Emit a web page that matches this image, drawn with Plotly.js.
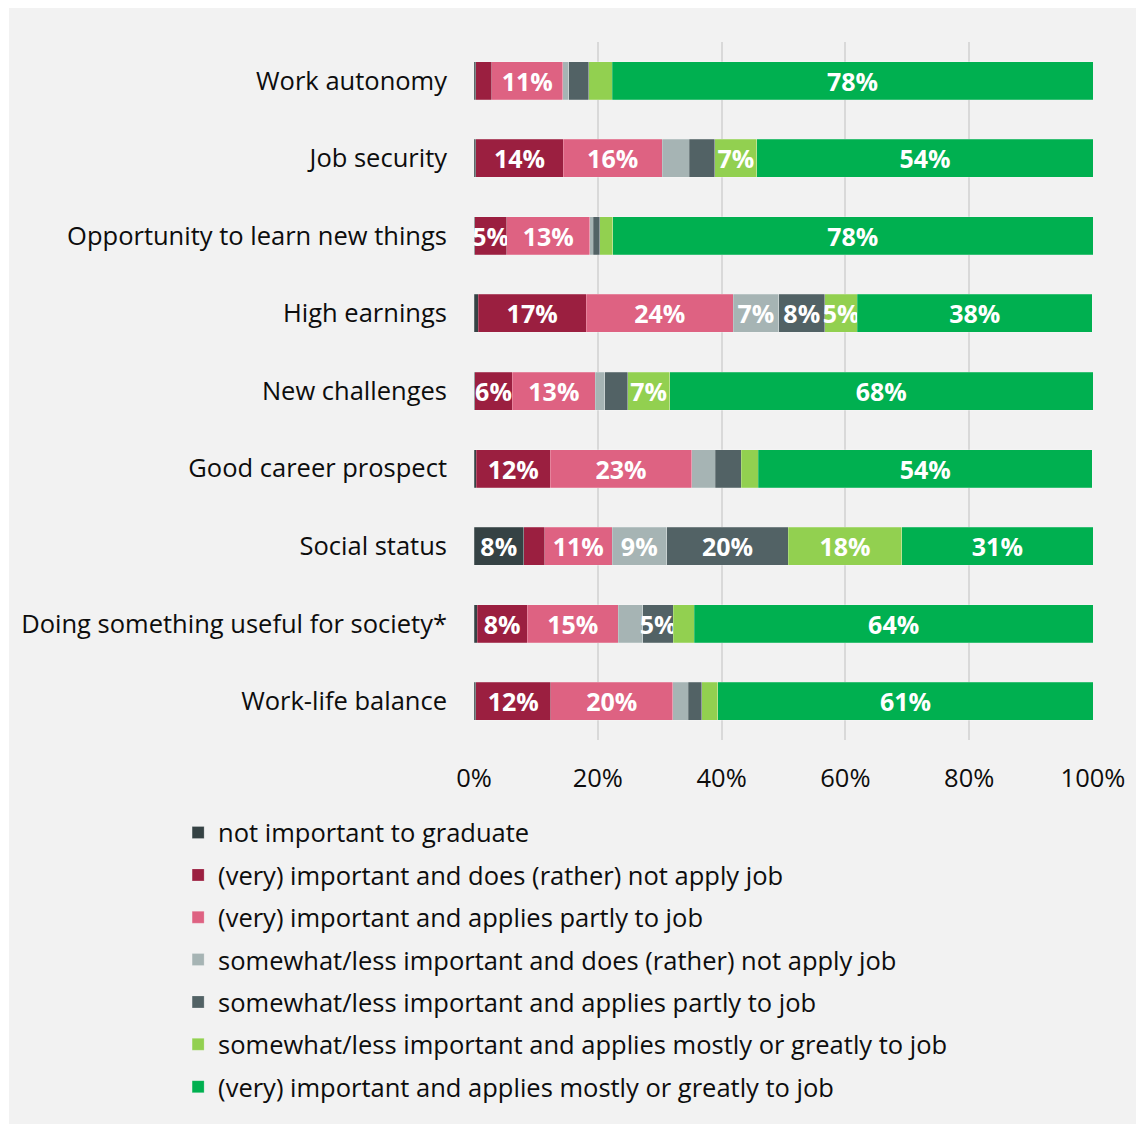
<!DOCTYPE html>
<html>
<head>
<meta charset="utf-8">
<script src="https://cdn.plot.ly/plotly-3.0.1.min.js"></script>
<style>
  html, body { margin: 0; padding: 0; background: #ffffff; }
  #chart { position: absolute; left: 9px; top: 8px; width: 1127px; height: 1116px; }
</style>
</head>
<body>
<div id="chart"></div>
<script>
// categories, top to bottom
const categories = [
  "Work autonomy",
  "Job security",
  "Opportunity to learn new things",
  "High earnings",
  "New challenges",
  "Good career prospect",
  "Social status",
  "Doing something useful for society*",
  "Work-life balance"
];

// shares in %
const notImportant    = [0.3, 0.3, 0.1, 0.7, 0.1, 0.4, 8.0, 0.5, 0.3];
const veryImpNotApply = [2.6, 14.1, 5.2, 17.4, 6.1, 11.9, 3.4, 8.1, 12.1];
const veryImpPartly   = [11.4, 16.0, 13.4, 23.8, 13.4, 22.9, 10.9, 14.7, 19.7];
const lessImpNotApply = [1.0, 4.4, 0.6, 7.3, 1.5, 3.8, 8.8, 4.0, 2.5];
const lessImpPartly   = [3.2, 4.1, 1.0, 7.5, 3.7, 4.2, 19.7, 4.9, 2.2];
const lessImpMostly   = [3.8, 6.8, 2.1, 5.2, 6.8, 2.7, 18.3, 3.4, 2.6];
const veryImpMostly   = [77.7, 54.3, 77.6, 38.0, 68.4, 54.0, 30.9, 64.4, 60.6];

const seriesNames = [
  "not important to graduate",
  "(very) important and does (rather) not apply job",
  "(very) important and applies partly to job",
  "somewhat/less important and does (rather) not apply job",
  "somewhat/less important and applies partly to job",
  "somewhat/less important and applies mostly or greatly to job",
  "(very) important and applies mostly or greatly to job"
];
const seriesValues = [notImportant, veryImpNotApply, veryImpPartly, lessImpNotApply,
                      lessImpPartly, lessImpMostly, veryImpMostly];
const seriesColors = ["#354244", "#9b1f40", "#de6282", "#a6b4b4", "#526265", "#92d050", "#00b050"];

const fontFamily = "'Open Sans', 'Noto Sans', sans-serif";

// only label segments of 5% and more
function labels(vals) {
  return vals.map(v => Math.round(v) >= 5 ? Math.round(v) + "%" : "");
}

const traces = seriesValues.map((vals, i) => ({
  type: "bar",
  orientation: "h",
  name: seriesNames[i],
  legendgroup: "g" + i,
  y: categories,
  x: vals,
  text: labels(vals),
  texttemplate: "%{text}",
  textposition: "inside",
  insidetextanchor: "middle",
  textangle: 0,
  constraintext: "none",
  textfont: { family: fontFamily, size: 25, color: "#ffffff", weight: "bold" },
  marker: { color: seriesColors[i], line: { width: 0.6, color: "rgba(255,255,255,0.35)" } },
  hoverinfo: "skip"
}));

const layout = {
  barmode: "stack",
  bargap: 0.51,
  paper_bgcolor: "#f2f2f2",
  plot_bgcolor: "#f2f2f2",
  font: { family: fontFamily, size: 25.5, color: "#0d0d0d" },
  margin: { l: 465, r: 43, t: 34, b: 384 },
  xaxis: {
    range: [0, 100],
    tickvals: [0, 20, 40, 60, 80, 100],
    ticktext: ["0%", "20%", "40%", "60%", "80%", "100%"],
    showgrid: true,
    gridcolor: "#d9d9d9",
    gridwidth: 1.5,
    zeroline: false,
    showline: false,
    ticks: "",
    ticklabelstandoff: 20,
    fixedrange: true
  },
  yaxis: {
    autorange: "reversed",
    showgrid: false,
    zeroline: false,
    showline: false,
    ticks: "",
    ticklabelstandoff: 26,
    fixedrange: true
  },
  legend: {
    orientation: "v",
    traceorder: "grouped",
    tracegroupgap: 6.2,
    x: -0.478,
    xanchor: "left",
    y: -0.0995,
    yanchor: "top",
    bgcolor: "rgba(0,0,0,0)",
    font: { family: fontFamily, size: 25.5, color: "#0d0d0d" }
  },
  showlegend: true,
  hovermode: false
};

Plotly.newPlot("chart", traces, layout, { displayModeBar: false, responsive: false });
</script>
</body>
</html>
